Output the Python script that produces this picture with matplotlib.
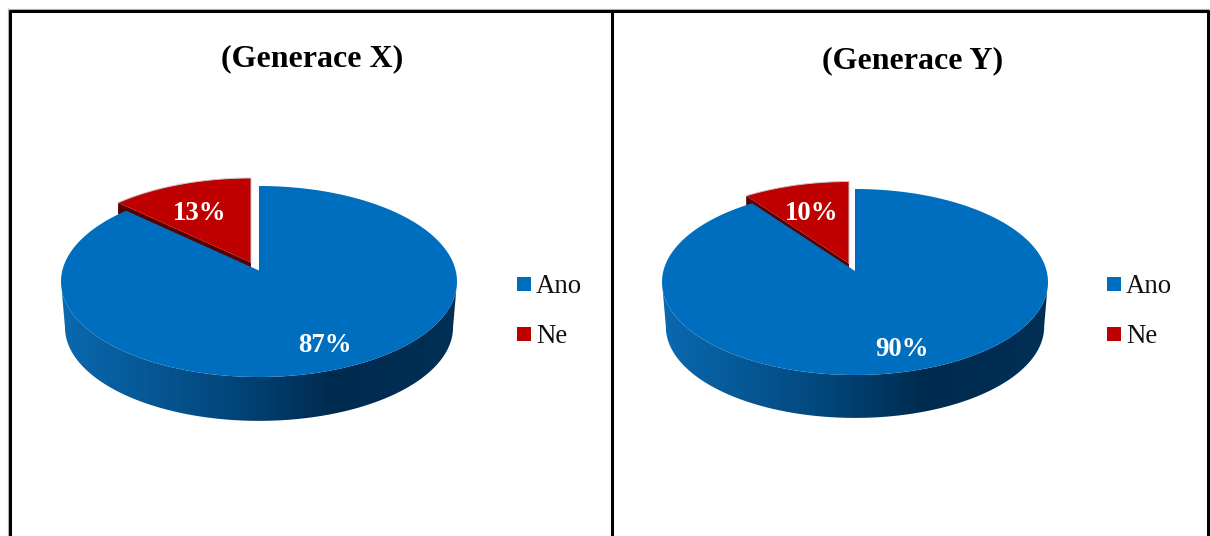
import numpy as np
import matplotlib
matplotlib.use('Agg')
import matplotlib.pyplot as plt
from matplotlib.patches import Polygon, Rectangle
from matplotlib.colors import LinearSegmentedColormap

# Data
titles = ['(Generace X)', '(Generace Y)']
categories = ['Ano', 'Ne']
ano_values = [87, 90]
ne_values = [13, 10]

BLUE = '#006EBF'
RED = '#BE0000'
DARK_RED = '#560000'
side_cmap = LinearSegmentedColormap.from_list(
    'side', [(0, '#0A69B0'), (0.42, '#02477C'), (0.68, '#002B50'), (1, '#002F56')])

W, H = 1210, 536
fig = plt.figure(figsize=(W / 100, H / 100), dpi=100)
ax = fig.add_axes([0, 0, 1, 1])
ax.set_xlim(0, W)
ax.set_ylim(H, 0)
ax.axis('off')
plt.rcParams['font.family'] = 'Liberation Serif'


def disc(start, stop, n=200):
    """Points on the tilted disc between two fractions of a turn, clockwise from 12 o'clock."""
    t = np.linspace(start, stop, n) * 2 * np.pi
    return np.sin(t), np.cos(t)


def project(u, v, geo, scale=1.0):
    # perspective: the back half of the disc is drawn smaller than the front
    b = geo['b']
    x = geo['cx'] + scale * geo['r'] * u / (1 + b * v)
    y = geo['cy'] - scale * geo['a'] * v / (1 + b * v)
    return x, y


def make_geo(cx, cy, half_w, up, down, depth):
    b = (down - up) / (down + up)
    return dict(cx=cx, cy=cy, r=half_w * np.sqrt(1 - b * b), a=up * (1 + b), b=b, depth=depth)


def draw_pie(geo, ano, ne, shift, z=2):
    total = ano + ne
    frac = ano / total

    # dark rim of the pulled-out slice, under everything else
    u, v = disc(frac, frac, 2)
    x0, y0 = project(u, v, geo)
    ex, ey = x0[0] + shift[0], y0[0] + shift[1]
    ax0, ay0 = geo['cx'] + shift[0], geo['cy'] + shift[1]
    ax.add_patch(Polygon([(ex, ey), (ax0, ay0), (ax0, ay0 + geo['depth']), (ex, ey + geo['depth'])],
                         closed=True, fc=DARK_RED, ec='none', zorder=z))

    # side wall with a left-to-right shading
    u, v = disc(0, 1, 720)
    xt, yt = project(u, v, geo)
    xb, yb = project(u, v, geo, scale=0.98)
    yb = yb + geo['depth']
    wide = np.argmax(xt), np.argmin(xt)
    top_front = np.arange(wide[0], wide[1] + 1)
    bot_front = top_front[yb[top_front] > yt[top_front]]
    outline = np.r_[np.c_[xt[top_front], yt[top_front]], np.c_[xb[bot_front], yb[bot_front]][::-1]]
    wall = Polygon(outline, closed=True, fc='none', ec='none', zorder=z + 1)
    ax.add_patch(wall)
    grad = np.linspace(0, 1, 256).reshape(1, -1)
    im = ax.imshow(grad, cmap=side_cmap, aspect='auto', zorder=z + 1,
                   extent=[xt.min(), xt.max(), yb.max(), yt.min()])
    im.set_clip_path(wall)

    # top faces
    u, v = disc(0, frac)
    x, y = project(u, v, geo)
    ax.add_patch(Polygon(np.r_[[[geo['cx'], geo['cy']]], np.c_[x, y]], closed=True,
                         fc=BLUE, ec='none', zorder=z + 2))
    u, v = disc(frac, 1)
    x, y = project(u, v, geo)
    ax.add_patch(Polygon(np.r_[[[ax0, ay0]], np.c_[x + shift[0], y + shift[1]]], closed=True,
                         fc=RED, ec='none', zorder=z + 3))
    # thin pale highlight on the slice's outer edge and right side
    ax.plot(np.r_[x + shift[0], ax0], np.r_[y + shift[1], ay0], color='#C8C8C8', lw=0.7, zorder=z + 4)


def draw_legend(x, ys):
    for name, y, color in zip(categories, ys, [BLUE, RED]):
        ax.add_patch(Rectangle((x, y - 7), 13.5, 13.5, fc=color, ec='none', zorder=3))
        ax.text(x + 19, y + 9, name, fontsize=19.3, color='#111111', ha='left', va='baseline', zorder=3)


# Panels
pies = [make_geo(259, 270.5, 198, 84.5, 106.5, 46), make_geo(855, 271, 193, 82, 104, 45)]
shifts = [(-8, -8), (-6, -7.5)]
ano_pos = [(325, 345), (902, 349)]
ne_pos = [(200, 213), (812, 213)]
title_pos = [(312, 59), (913, 61)]
legend_x = [517, 1107]

for i in range(2):
    draw_pie(pies[i], ano_values[i], ne_values[i], shifts[i])
    ax.text(*ano_pos[i], f'{ano_values[i]}%', color='white', fontsize=19.3, fontweight='bold',
            ha='center', va='center', zorder=8)
    ax.text(*ne_pos[i], f'{ne_values[i]}%', color='white', fontsize=19.3, fontweight='bold',
            ha='center', va='center', zorder=8)
    ax.text(*title_pos[i], titles[i], color='black', fontsize=23, fontweight='bold',
            ha='center', va='center', zorder=8)
    draw_legend(legend_x[i], [284, 334])

# Frame, open at the bottom
ax.plot([8, 8], [8, H], color='#B4B4B4', lw=0.8, zorder=8, solid_capstyle='butt')
ax.plot([8, 1209], [8.5, 8.5], color='#B4B4B4', lw=0.8, zorder=8, solid_capstyle='butt')
for x in [10, 611.5, 1207.5]:
    ax.plot([x, x], [10, H], color='black', lw=2.2, zorder=9, solid_capstyle='butt')
ax.plot([9, 1209], [10.5, 10.5], color='black', lw=2.2, zorder=9, solid_capstyle='butt')

fig.savefig('out.png', dpi=100)
